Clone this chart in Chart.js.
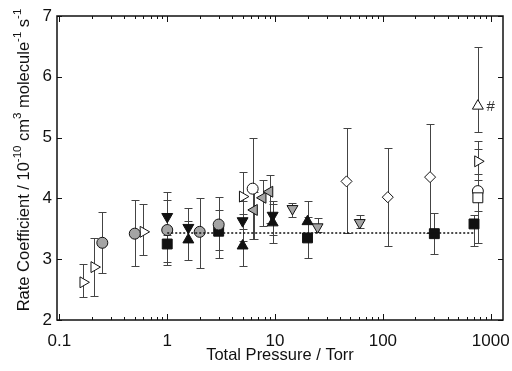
<!DOCTYPE html>
<html>
<head>
<meta charset="utf-8">
<script src="https://cdn.jsdelivr.net/npm/chart.js@4/dist/chart.umd.min.js"></script>
<style>html,body{margin:0;padding:0;background:#fff;}canvas{display:block;}</style>
</head>
<body>
<canvas id="c" width="512" height="371"></canvas>
<script>
// ---- data ----
const xTickValues = [0.1, 1, 10, 100, 1000];
const yTickValues = [2, 3, 4, 5, 6, 7];

// open right-pointing triangles
const rtX  = [0.166, 0.21, 0.6, 5.0, 760];
const rtY  = [2.62, 2.87, 3.45, 4.03, 4.61];
const rtLo = [2.38, 2.39, 3.07, 3.75, 4.30];
const rtHi = [2.92, 3.35, 3.90, 4.43, 4.95];
// grey circles
const gcX  = [0.25, 0.5, 1.0, 2.0, 3.0];
const gcY  = [3.27, 3.42, 3.48, 3.45, 3.57];
const gcLo = [2.77, 2.89, 2.96, 2.86, 3.15];
const gcHi = [3.78, 3.98, 4.10, 4.00, 4.03];
// black squares
const bsX  = [1.0, 3.0, 20, 300, 700];
const bsY  = [3.25, 3.46, 3.35, 3.42, 3.58];
const bsLo = [2.91, 3.02, 3.02, 3.08, 3.22];
const bsHi = [3.55, 3.81, 3.70, 3.76, 3.73];
// black down triangles
const bdX  = [1.0, 1.57, 5.0, 9.5];
const bdY  = [3.70, 3.52, 3.63, 3.72];
const bdLo = [3.40, 3.30, 3.30, 3.40];
const bdHi = [3.98, 3.85, 3.95, 3.95];
// black up triangles
const buX  = [1.57, 5.0, 9.5, 20];
const buY  = [3.32, 3.22, 3.60, 3.62];
const buLo = [2.99, 2.89, 3.27, 3.30];
const buHi = [3.63, 3.50, 3.90, 3.95];
// open diamonds
const odX  = [46, 111, 274];
const odY  = [4.28, 4.02, 4.35];
const odLo = [3.43, 3.21, 3.43];
const odHi = [5.16, 4.83, 5.23];
// grey down triangles
const gdX  = [14.5, 24.8, 61];
const gdY  = [3.83, 3.53, 3.60];
const gdLo = [3.70, 3.44, 3.52];
const gdHi = [3.93, 3.67, 3.73];
// grey left triangles
const glX  = [6.4, 7.7, 8.9];
const glY  = [3.81, 4.01, 4.11];
const glLo = [3.33, 3.55, 3.60];
const glHi = [4.10, 4.30, 4.39];
// open circles
const ocX  = [6.2, 760];
const ocY  = [4.16, 4.12];
const ocLo = [3.33, 3.80];
const ocHi = [5.00, 4.40];
// open squares
const osX  = [760];
const osY  = [4.01];
const osLo = [3.27];
const osHi = [4.81];
// open up triangles
const ouX  = [760];
const ouY  = [5.52];
const ouLo = [5.10];
const ouHi = [6.49];
// dotted reference line
const lineX = [1, 700];
const lineY = [3.43, 3.43];
// '#' annotation
const hashX = [1000];
const hashY = [5.50];

const FONT = "'Liberation Sans', Arial, sans-serif";
const GREY = '#a4a4a4';
const pts = (X, Y) => X.map((v, i) => ({x: v, y: Y[i]}));

function ds(X, Y, lo, hi, style, rot, fill, r) {
  return {
    type: 'scatter', data: pts(X, Y), lo: lo, hi: hi,
    pointStyle: style, rotation: rot, pointRadius: r,
    backgroundColor: fill, borderColor: '#111', borderWidth: 1,
    pointHoverRadius: r
  };
}

const datasets = [
  {type: 'line', data: pts(lineX, lineY), borderColor: '#111', borderWidth: 1.5,
   borderDash: [2, 2], pointRadius: 0, fill: false},
  ds(gcX, gcY, gcLo, gcHi, 'circle', 0, GREY, 5.5),
  ds(bsX, bsY, bsLo, bsHi, 'rect', 0, '#111', 7),
  ds(bdX, bdY, bdLo, bdHi, 'triangle', 180, '#111', 6.3),
  ds(buX, buY, buLo, buHi, 'triangle', 0, '#111', 6.3),
  ds(odX, odY, odLo, odHi, 'rectRot', 0, '#fff', 5.5),
  ds(gdX, gdY, gdLo, gdHi, 'triangle', 180, GREY, 6.3),
  ds(glX, glY, glLo, glHi, 'triangle', 270, GREY, 6.3),
  ds(osX, osY, osLo, osHi, 'rect', 0, '#fff', 7),
  ds(ocX, ocY, ocLo, ocHi, 'circle', 0, '#fff', 5.5),
  ds(rtX, rtY, rtLo, rtHi, 'triangle', 90, '#fff', 6.3),
  ds(ouX, ouY, ouLo, ouHi, 'triangle', 0, '#fff', 6.3)
];

const errPlugin = {
  id: 'errbars',
  beforeDatasetsDraw(chart) {
    const {ctx, scales: {x, y}} = chart;
    ctx.save();
    ctx.strokeStyle = '#444';
    ctx.lineWidth = 1;
    chart.data.datasets.forEach(d => {
      if (!d.lo) return;
      d.data.forEach((p, i) => {
        const px = Math.round(x.getPixelForValue(p.x)) + 0.5;
        const y1 = Math.round(y.getPixelForValue(d.lo[i])) + 0.5;
        const y2 = Math.round(y.getPixelForValue(d.hi[i])) + 0.5;
        ctx.beginPath();
        ctx.moveTo(px, y1); ctx.lineTo(px, y2);
        ctx.moveTo(px - 4, y1); ctx.lineTo(px + 4, y1);
        ctx.moveTo(px - 4, y2); ctx.lineTo(px + 4, y2);
        ctx.stroke();
      });
    });
    ctx.restore();
  }
};

const framePlugin = {
  id: 'frame',
  afterDraw(chart) {
    const {ctx, chartArea: a, scales: {x, y}} = chart;
    ctx.save();
    ctx.strokeStyle = '#111';
    ctx.lineWidth = 1;
    ctx.beginPath();
    for (let e = -1; e <= 3; e++) {
      for (let m = 1; m <= 9; m++) {
        const v = m * Math.pow(10, e);
        const px = Math.round(x.getPixelForValue(v)) + 0.5;
        if (px < a.left || px > a.right) continue;
        const L = (m === 1) ? 6 : 3;
        ctx.moveTo(px, a.bottom); ctx.lineTo(px, a.bottom - L);
        ctx.moveTo(px, a.top); ctx.lineTo(px, a.top + L);
      }
    }
    yTickValues.forEach(v => {
      const py = Math.round(y.getPixelForValue(v)) + 0.5;
      ctx.moveTo(a.left, py); ctx.lineTo(a.left + 5, py);
      ctx.moveTo(a.right, py); ctx.lineTo(a.right - 5, py);
    });
    ctx.stroke();
    ctx.lineWidth = 1.5;
    ctx.strokeRect(a.left, a.top, a.right - a.left, a.bottom - a.top);

    // '#' annotation
    ctx.fillStyle = '#333';
    ctx.font = '15px ' + FONT;
    ctx.textAlign = 'center';
    ctx.textBaseline = 'middle';
    hashX.forEach((v, i) => ctx.fillText('#', x.getPixelForValue(v), y.getPixelForValue(hashY[i])));

    // y-axis title with superscripts
    const parts = [
      ['Rate Coefficient / 10', false], ['-10', true], [' cm', false], ['3', true],
      [' molecule', false], ['-1', true], [' s', false], ['-1', true]
    ];
    const big = '16.5px ' + FONT, small = '11.5px ' + FONT;
    let total = 0;
    parts.forEach(p => { ctx.font = p[1] ? small : big; total += ctx.measureText(p[0]).width; });
    ctx.translate(24, 160);
    ctx.rotate(-Math.PI / 2);
    ctx.textAlign = 'left';
    ctx.textBaseline = 'middle';
    ctx.fillStyle = '#111';
    let cx = -total / 2;
    parts.forEach(p => {
      ctx.font = p[1] ? small : big;
      ctx.fillText(p[0], cx, p[1] ? -6 : 0);
      cx += ctx.measureText(p[0]).width;
    });
    ctx.restore();
  }
};

new Chart(document.getElementById('c'), {
  type: 'scatter',
  data: {datasets: datasets},
  options: {
    responsive: false,
    animation: false,
    devicePixelRatio: 1,
    layout: {padding: {left: 0, right: 9, top: 16, bottom: 0}},
    plugins: {legend: {display: false}, tooltip: {enabled: false}},
    scales: {
      x: {
        type: 'logarithmic', min: 0.095, max: 1300,
        afterBuildTicks: s => { s.ticks = xTickValues.map(v => ({value: v})); },
        afterFit: s => { s.height = 51; s.paddingLeft = 0; s.paddingRight = 0; },
        grid: {display: false, drawTicks: false},
        border: {display: false},
        ticks: {
          autoSkip: false, maxRotation: 0, padding: 11, color: '#111',
          font: {family: FONT, size: 17},
          callback: v => String(v)
        },
        title: {display: true, text: 'Total Pressure / Torr', color: '#111',
                font: {family: FONT, size: 16.5}, padding: {top: 0, bottom: 6}}
      },
      y: {
        type: 'linear', min: 2, max: 7,
        afterBuildTicks: s => { s.ticks = yTickValues.map(v => ({value: v})); },
        afterFit: s => { s.width = 57; s.paddingTop = 0; s.paddingBottom = 0; },
        grid: {display: false, drawTicks: false},
        border: {display: false},
        ticks: {padding: 5, color: '#111', font: {family: FONT, size: 17}}
      }
    }
  },
  plugins: [errPlugin, framePlugin]
});
</script>
</body>
</html>
